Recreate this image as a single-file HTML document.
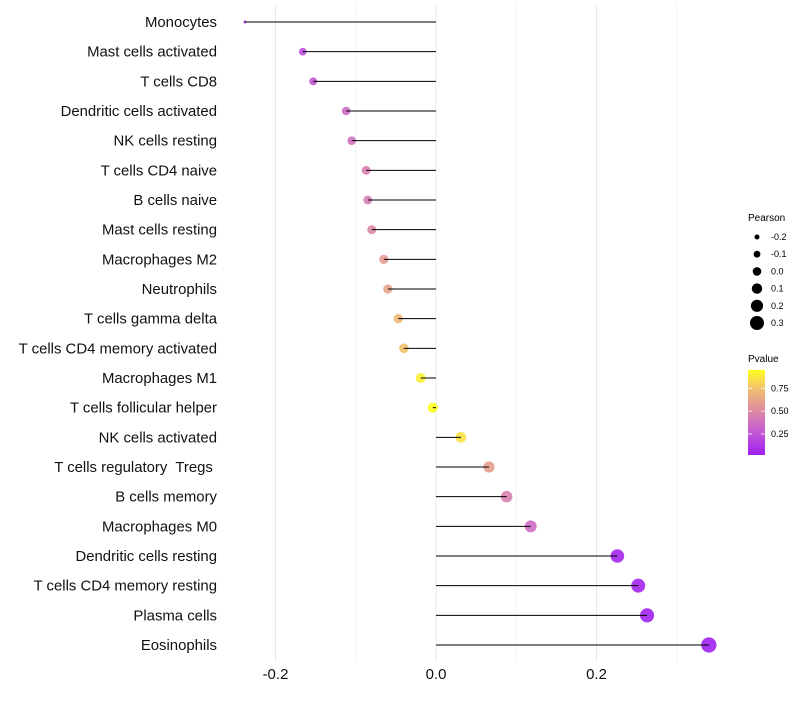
<!DOCTYPE html>
<html><head><meta charset="utf-8"><style>
body{margin:0;background:#fff;font-family:"Liberation Sans",sans-serif;}
svg text{font-family:"Liberation Sans",sans-serif;white-space:pre;}
</style></head><body>
<svg id="chart" width="800" height="700">
<defs><linearGradient id="pg" x1="0" y1="1" x2="0" y2="0">
<stop offset="0" stop-color="#a020f0"/><stop offset="0.3" stop-color="#c860d0"/><stop offset="0.55" stop-color="#e0909c"/><stop offset="0.78" stop-color="#f2c070"/><stop offset="1" stop-color="#ffff20"/>
</linearGradient></defs>
<g id="grid"></g><g id="dots"></g><g id="marks"></g><g id="labels"></g>
<g id="legend">
<text x="748" y="221" font-size="10">Pearson</text>
<text x="748" y="362" font-size="10">Pvalue</text>
<rect x="748" y="370" width="17" height="85" fill="url(#pg)"/>
</g>
</svg>
<script>
const categories=["Monocytes","Mast cells activated","T cells CD8","Dendritic cells activated","NK cells resting","T cells CD4 naive","B cells naive","Mast cells resting","Macrophages M2","Neutrophils","T cells gamma delta","T cells CD4 memory activated","Macrophages M1","T cells follicular helper","NK cells activated","T cells regulatory  Tregs ","B cells memory","Macrophages M0","Dendritic cells resting","T cells CD4 memory resting","Plasma cells","Eosinophils"];
const pearson=[-0.238,-0.166,-0.153,-0.112,-0.105,-0.087,-0.085,-0.080,-0.065,-0.060,-0.047,-0.040,-0.019,-0.004,0.031,0.066,0.088,0.118,0.226,0.252,0.263,0.340];
const pvalue=[0.10,0.20,0.25,0.35,0.38,0.45,0.45,0.50,0.58,0.62,0.70,0.75,0.90,0.98,0.85,0.60,0.45,0.35,0.05,0.04,0.03,0.02];
const xTicks=[-0.2,0,0.2];
const xTickLabels=["-0.2","0.0","0.2"];
const minorTicks=[-0.1,0.1,0.3];
const sizeLegend=[-0.2,-0.1,0.0,0.1,0.2,0.3];
const sizeLegendLabels=["-0.2","-0.1","0.0","0.1","0.2","0.3"];
const pLegend=[0.25,0.5,0.75];
const pLegendLabels=["0.25","0.50","0.75"];
const NS="http://www.w3.org/2000/svg";
const X=v=>436+v*802.5;
const Y=i=>22+i*29.667;
const vmin=Math.min(...pearson);
const R=v=>Math.min(5.1+7.5*v,1.5+32*(v-vmin));
const stops=[[0,[160,32,240]],[0.3,[200,96,208]],[0.55,[224,144,156]],[0.78,[242,192,112]],[1,[255,255,32]]];
function col(p){const t=Math.min(1,Math.max(0,(p-0.02)/0.93));for(let k=1;k<stops.length;k++){if(t<=stops[k][0]){const a=stops[k-1],b=stops[k],f=(t-a[0])/(b[0]-a[0]);return "rgb("+a[1].map((c,j)=>Math.round(c+(b[1][j]-c)*f)).join(",")+")";}}return "rgb(255,255,32)";}
function mk(tag,attrs,parent,txt){const e=document.createElementNS(NS,tag);for(const k in attrs)e.setAttribute(k,attrs[k]);if(txt!==undefined)e.textContent=txt;parent.appendChild(e);return e;}
const grid=document.getElementById('grid'),dots=document.getElementById('dots'),marks=document.getElementById('marks'),labels=document.getElementById('labels'),legend=document.getElementById('legend');
minorTicks.forEach(v=>{const l=mk('line',{x1:X(v),x2:X(v),y1:5,y2:662,stroke:'#f2f2f2','stroke-width':1},grid);

});
xTicks.forEach((v,i)=>{const l=mk('line',{x1:X(v),x2:X(v),y1:5,y2:662,stroke:'#e8e8e8','stroke-width':1},grid);


const t=mk('text',{x:X(v),y:679,'font-size':15,'text-anchor':'middle',fill:'#111'},labels,xTickLabels[i]);

});
categories.forEach((c,i)=>{const y=Y(i),v=pearson[i];
const d=mk('circle',{cx:X(v),cy:y,r:R(v),fill:col(pvalue[i]),'fill-opacity':0.9},dots);


const l=mk('line',{x1:X(v),x2:X(0),y1:y,y2:y,stroke:'#000','stroke-width':1},marks);


const t=mk('text',{x:217,y:y+5,'font-size':14.9,'text-anchor':'end',fill:'#111'},labels,c);

});
sizeLegend.forEach((v,i)=>{const y=237+i*17.2;
const c=mk('circle',{cx:757,cy:y,r:2.5+i*0.9,fill:'#000'},legend);


const t=mk('text',{x:771,y:y+3,'font-size':9},legend,sizeLegendLabels[i]);

});
pLegend.forEach((p,i)=>{const y=455-(p-0.02)/0.93*85;
const l=mk('line',{x1:748,x2:752,y1:y,y2:y,stroke:'#fff','stroke-width':0.8},legend);


const l2=mk('line',{x1:761,x2:765,y1:y,y2:y,stroke:'#fff','stroke-width':0.8},legend);


const t=mk('text',{x:771,y:y+3,'font-size':9},legend,pLegendLabels[i]);

});
</script>
</body></html>
